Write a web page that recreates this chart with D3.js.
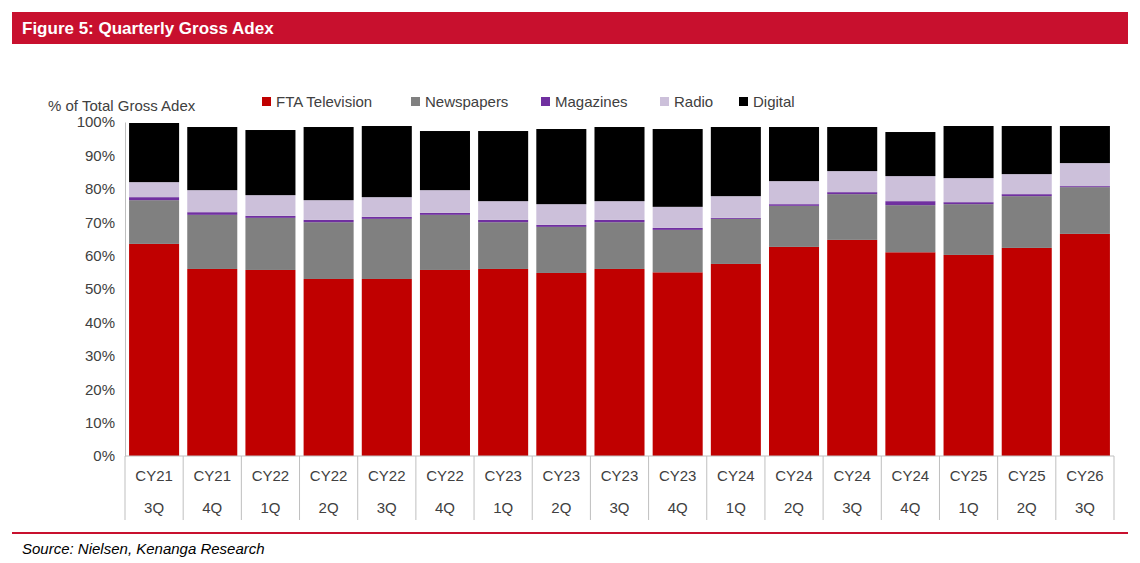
<!DOCTYPE html>
<html><head><meta charset="utf-8">
<script src="https://cdn.jsdelivr.net/npm/d3@7"></script>
<style>body{margin:0;background:#fff;font-family:Arial,"Liberation Sans",sans-serif;}</style>
</head><body>
<svg id="chart" width="1140" height="563"></svg>
<script>
var quarters = ["CY21|3Q","CY21|4Q","CY22|1Q","CY22|2Q","CY22|3Q","CY22|4Q","CY23|1Q","CY23|2Q","CY23|3Q","CY23|4Q","CY24|1Q","CY24|2Q","CY24|3Q","CY24|4Q","CY25|1Q","CY25|2Q","CY26|3Q"];
var seriesNames = ["FTA Television","Newspapers","Magazines","Radio","Digital"];
var seriesColors = ["#c00000","#808080","#7030a0","#ccc0da","#000000"];
var tv = [63.5,56,55.7,53,53,55.7,56,54.8,56,55,57.5,62.6,64.7,61,60.2,62.3,66.5];
var newspapers = [13.1,16.2,15.6,17,18,16.5,14,13.8,14,12.7,13.5,12.3,13.7,14.1,15.2,15.5,14];
var magazines = [0.9,0.8,0.6,0.7,0.6,0.6,0.7,0.6,0.7,0.6,0.3,0.5,0.6,1.2,0.6,0.6,0.3];
var radio = [4.5,6.6,6.2,5.9,5.9,6.8,5.6,6.2,5.6,6.3,6.5,6.9,6.3,7.5,7.2,6,6.9];
var digital = [17.7,18.9,19.5,21.9,21.3,17.7,21,22.5,22.2,23.3,20.7,16.2,13.2,13.2,15.6,14.4,11.1];
var yTicks = [0,10,20,30,40,50,60,70,80,90,100];

var svg = d3.select("#chart");
var red = "#c8102e";

// header
svg.append("rect").attr("x", 12).attr("y", 12).attr("width", 1116).attr("height", 32).attr("fill", red);
svg.append("text").attr("x", 22).attr("y", 34).attr("fill", "#fff")
  .style("font-size", "17px").style("font-weight", "bold").text("Figure 5: Quarterly Gross Adex");

var plotLeft = 125, plotRight = 1114, plotTop = 122, plotBottom = 456;
var x = d3.scaleBand().domain(quarters).range([plotLeft, plotRight]).paddingInner(0.14).paddingOuter(0.07);
var y = d3.scaleLinear().domain([0, 100]).range([plotBottom, plotTop]);

var rows = quarters.map(function(q, i) {
  return {q: q, "FTA Television": tv[i], "Newspapers": newspapers[i], "Magazines": magazines[i], "Radio": radio[i], "Digital": digital[i]};
});
var stack = d3.stack().keys(seriesNames)(rows);

svg.selectAll("g.series").data(stack).enter().append("g")
  .attr("fill", function(d, i) { return seriesColors[i]; })
  .selectAll("rect").data(function(d) { return d; }).enter().append("rect")
  .attr("x", function(d) { return x(d.data.q); })
  .attr("width", x.bandwidth())
  .attr("y", function(d) { return y(d[1]); })
  .attr("height", function(d) { return y(d[0]) - y(d[1]); });

// y axis
var ya = svg.append("g").attr("transform", "translate(" + plotLeft + ",0)")
  .call(d3.axisLeft(y).tickValues(yTicks).tickSize(0).tickPadding(10).tickFormat(function(d) { return d + "%"; }));
ya.select(".domain").attr("stroke", "#bfbfbf");
ya.selectAll("text").style("font-size", "15px").attr("fill", "#404040").style("font-family", "Arial,'Liberation Sans',sans-serif");

// x axis line + separators
svg.append("line").attr("x1", plotLeft).attr("x2", plotRight).attr("y1", plotBottom).attr("y2", plotBottom).attr("stroke", "#bfbfbf");
var step = x.step();
var seps = d3.range(quarters.length + 1).map(function(i) { return plotLeft + i * step; });
svg.selectAll("line.sep").data(seps).enter().append("line")
  .attr("x1", function(d) { return d; }).attr("x2", function(d) { return d; })
  .attr("y1", plotBottom).attr("y2", 520).attr("stroke", "#bfbfbf");
var xl = svg.selectAll("text.xl").data(quarters).enter().append("text")
  .attr("text-anchor", "middle").style("font-size", "15px").attr("fill", "#404040");
xl.append("tspan").attr("x", function(d) { return x(d) + x.bandwidth() / 2; }).attr("y", 481)
  .text(function(d) { return d.split("|")[0]; });
xl.append("tspan").attr("x", function(d) { return x(d) + x.bandwidth() / 2; }).attr("y", 513)
  .text(function(d) { return d.split("|")[1]; });

// y title
svg.append("text").attr("x", 48).attr("y", 111).style("font-size", "15px").attr("fill", "#404040").text("% of Total Gross Adex");

// legend
var legX = [262, 411, 541, 660, 739];
var lg = svg.selectAll("g.leg").data(seriesNames).enter().append("g")
  .attr("transform", function(d, i) { return "translate(" + legX[i] + ",102)"; });
lg.append("rect").attr("x", 0).attr("y", -5).attr("width", 9).attr("height", 9)
  .attr("fill", function(d, i) { return seriesColors[i]; });
lg.append("text").attr("x", 14).attr("y", 5).style("font-size", "15px").attr("fill", "#404040").text(function(d) { return d; });

// footer
svg.append("rect").attr("x", 12).attr("y", 532).attr("width", 1116).attr("height", 2).attr("fill", red);
svg.append("text").attr("x", 22).attr("y", 554).style("font-size", "15px").style("font-style", "italic").attr("fill", "#000")
  .text("Source: Nielsen, Kenanga Research");
</script>
</body></html>
